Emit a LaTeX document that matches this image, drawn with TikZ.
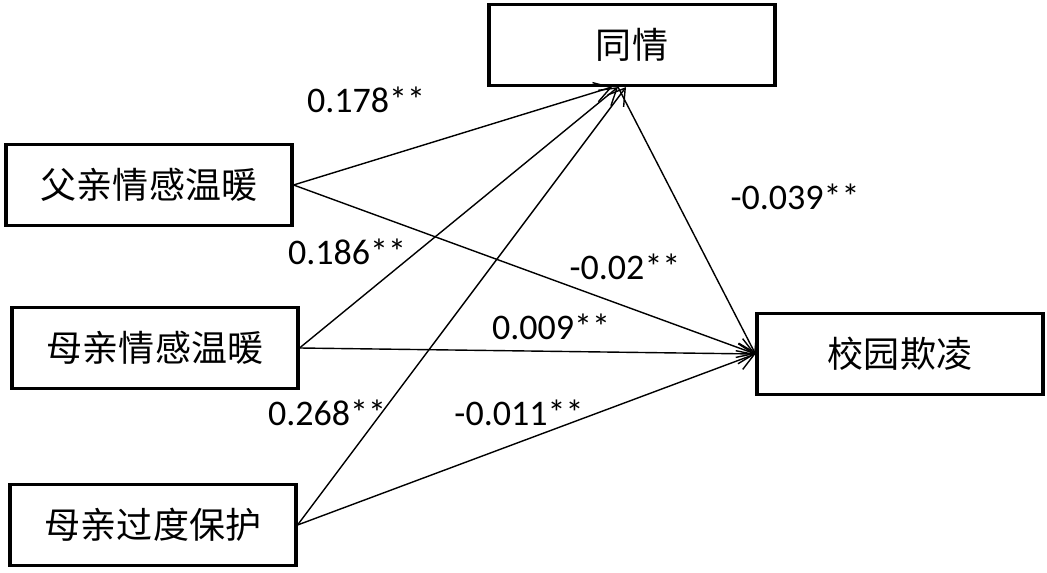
\documentclass[tikz,border=0pt]{standalone}
\usepackage{fontspec}
\setmainfont{Carlito}
\newfontfamily\cjk{Noto Sans CJK SC}
\usetikzlibrary{arrows.meta,calc}

\tikzset{
  varbox/.style={draw, line width=1.8pt, minimum width=5.72cm, minimum height=1.62cm,
    inner sep=0pt, font=\cjk\fontsize{20.5}{24}\selectfont},
  path/.style={line width=0.8pt, -{Straight Barb[length=3.2mm, width=4mm]}},
  coef/.style={inner sep=0pt, font=\fontsize{20.5}{24}\selectfont}
}

\begin{document}
\begin{tikzpicture}[x=0.02cm, y=-0.02cm]
        \useasboundingbox (0,0) rectangle (1047,573);
        % variables
        \node[varbox] (tongqing) at (632,45) {同情};
        \node[varbox] (baling) at (900,354) {校园欺凌};
        \node[varbox] (fuqin) at (149,185) {父亲情感温暖};
        \node[varbox] (muqin) at (155,348) {母亲情感温暖};
        \node[varbox] (baohu) at (153,525) {母亲过度保护};
        % paths to 同情
        \draw[path] (fuqin.east) -- ($(tongqing.south)+(-20,0)$);
        \draw[path] (muqin.east) -- ($(tongqing.south)+(-14,0)$);
        \draw[path] (baohu.east) -- ($(tongqing.south)+(-6,0)$);
        % paths to 校园欺凌
        \draw[path] ($(tongqing.south)+(-14,0)$) -- (baling.west);
        \draw[path] (fuqin.east) -- (baling.west);
        \draw[path] (muqin.east) -- (baling.west);
        \draw[path] (baohu.east) -- (baling.west);
        % coefficients
        \node[coef] (c1) at (366,100) {0.178**};
        \node[coef] (c2) at (795,197) {-0.039**};
        \node[coef] (c3) at (347,252) {0.186**};
        \node[coef] (c4) at (625,267) {-0.02**};
        \node[coef] (c5) at (551,327) {0.009**};
        \node[coef] (c6) at (327,413) {0.268**};
        \node[coef] (c7) at (519,413) {-0.011**};
      \end{tikzpicture}
\end{document}
